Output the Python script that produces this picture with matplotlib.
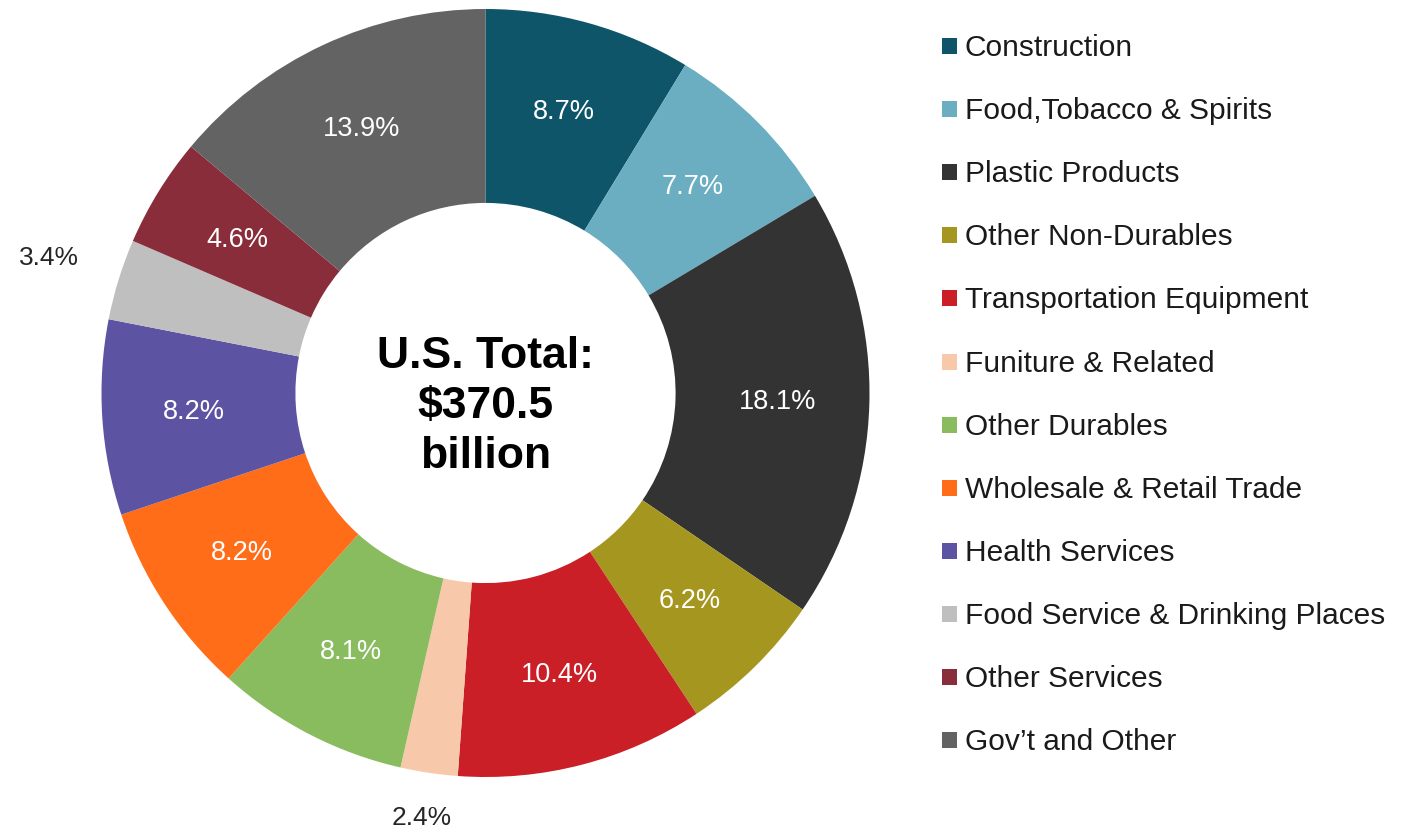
import matplotlib
matplotlib.use("Agg")
import matplotlib.pyplot as plt
import numpy as np
from matplotlib.patches import Rectangle

plt.rcParams['font.family'] = ['Liberation Sans', 'DejaVu Sans']

categories = ["Construction", "Food,Tobacco & Spirits", "Plastic Products",
              "Other Non-Durables", "Transportation Equipment", "Funiture & Related",
              "Other Durables", "Wholesale & Retail Trade", "Health Services",
              "Food Service & Drinking Places", "Other Services", "Gov\u2019t and Other"]
shares = [8.7, 7.7, 18.1, 6.2, 10.4, 2.4, 8.1, 8.2, 8.2, 3.4, 4.6, 13.9]
colors = ["#0E5569", "#6BAEC1", "#333333", "#A5961F", "#CA1F27", "#F7C9AA",
          "#89BB5F", "#FF6D19", "#5C54A2", "#BFBFBF", "#8A2D3B", "#636363"]
outside = [False, False, False, False, False, True, False, False, False, True, False, False]
outside_r = {5: 1.12, 9: 1.19}
center_text = "U.S. Total:\n$370.5\nbillion"

W, H = 1419, 833
fig = plt.figure(figsize=(W / 100, H / 100), dpi=100)

cx, cy, R = 485.5, 393, 384
ax = fig.add_axes([(cx - R) / W, (H - cy - R) / H, 2 * R / W, 2 * R / H])

wedges, _ = ax.pie(shares, colors=colors, startangle=90, counterclock=False,
                   radius=1.0, wedgeprops=dict(width=0.505, edgecolor='none'))
ax.set_xlim(-1, 1)
ax.set_ylim(-1, 1)
ax.set_aspect('auto')
ax.axis('off')

for i, w in enumerate(wedges):
    mid = np.deg2rad((w.theta1 + w.theta2) / 2)
    if outside[i]:
        r = outside_r[i]
        ax.text(r * np.cos(mid), r * np.sin(mid), f"{shares[i]:.1f}%",
                ha='center', va='center', fontsize=19, color='#262626', clip_on=False)
    else:
        r = 0.76
        ax.text(r * np.cos(mid), r * np.sin(mid), f"{shares[i]:.1f}%",
                ha='center', va='center', fontsize=19.5, color='white')

ax.text(0, -0.035, center_text, ha='center', va='center', fontsize=32,
        fontweight='bold', color='black', linespacing=1.28)

# legend
y0, step = 48, 63.1
for i, (lab, col) in enumerate(zip(categories, colors)):
    y = y0 + i * step
    fig.patches.append(Rectangle((942 / W, (H - y - 6) / H), 15 / W, 16 / H,
                                 transform=fig.transFigure, facecolor=col,
                                 edgecolor='none'))
    fig.text(965 / W, (H - y) / H, lab, ha='left', va='center',
             fontsize=21.5, color='#1a1a1a')

fig.savefig("out.png", dpi=100, facecolor='white')
